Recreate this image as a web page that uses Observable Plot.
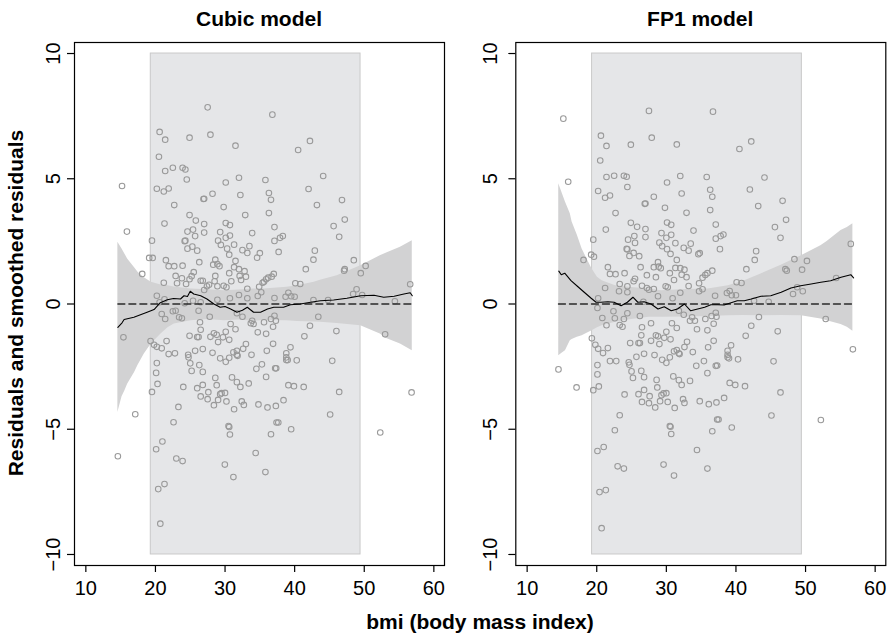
<!DOCTYPE html>
<html>
<head>
<meta charset="utf-8">
<script src="https://cdn.jsdelivr.net/npm/d3@7"></script>
<script src="https://cdn.jsdelivr.net/npm/@observablehq/plot@0.6"></script>
<style>
  html, body { margin: 0; padding: 0; background: #fff; }
  #wrap { position: relative; width: 888px; height: 635px; overflow: hidden; }
  #wrap svg { position: absolute; top: 0; }
</style>
</head>
<body>
<div id="wrap"></div>
<script>
// ---------- data ----------
const panelTitles = ["Cubic model", "FP1 model"];
const xLabel = "bmi (body mass index)";
const yLabel = "Residuals and smoothed residuals";
const xTicks = [10, 20, 30, 40, 50, 60];
const yTicks = [-10, -5, 0, 5, 10];
const yTickLabels = ["\u221210", "\u22125", "0", "5", "10"];
const regionX = [19.33, 49.47];   // shaded central region of bmi
const regionY = [-10, 10];

// Cubic model residuals [bmi, residual]
const cubicPoints = [
[15.2,4.71],[15.9,2.89],[18.1,1.2],[27.5,7.85],[36.8,7.56],[20.6,6.87],[21.4,6.56],[24.9,6.64],[27.9,6.76],[31.5,6.32],[40.5,6.15],[42.2,6.51],[20.5,5.88],[21.4,5.31],[22.5,5.44],[23.9,5.44],[24.3,5.37],[24.5,4.97],[20.2,4.6],[21.2,4.49],[21.9,4.61],[22.7,3.95],[26.9,4.19],[27.0,4.2],[28.2,4.4],[30.1,4.85],[32.0,5.04],[32.2,4.35],[29.8,3.87],[35.8,4.95],[36.3,4.43],[36.6,4.16],[36.3,3.63],[32.9,3.55],[42.0,4.59],[43.2,3.95],[44.1,5.11],[46.8,4.15],[47.2,3.37],[45.6,3.11],[46.4,2.68],[24.9,3.55],[25.8,3.33],[27.0,3.19],[21.3,3.21],[30.1,3.23],[30.7,3.15],[25.4,2.97],[24.6,2.89],[27.0,2.85],[25.7,2.71],[29.3,2.87],[30.7,2.73],[30.1,2.64],[33.9,2.83],[37.1,3.07],[24.3,2.53],[24.2,2.51],[29.0,2.53],[29.4,2.36],[31.3,2.37],[30.3,2.21],[30.6,1.97],[25.3,2.29],[24.6,2.21],[26.0,2.13],[33.5,2.31],[32.5,2.15],[33.2,2.04],[35.0,2.03],[34.6,1.85],[37.1,2.52],[37.9,2.64],[38.3,2.71],[37.7,2.08],[42.9,2.13],[42.7,1.77],[41.6,1.39],[19.5,2.53],[19.1,1.84],[19.6,1.84],[21.5,1.75],[21.9,1.51],[22.7,1.51],[23.9,1.53],[26.3,1.67],[28.6,1.77],[28.3,1.57],[28.9,1.59],[29.2,1.51],[31.5,1.72],[31.3,1.47],[32.0,1.39],[32.8,1.31],[30.6,1.23],[22.9,1.12],[23.8,1.03],[25.2,1.11],[25.5,1.27],[24.9,0.99],[26.5,0.93],[26.8,0.93],[28.6,1.12],[28.5,0.91],[32.1,1.12],[33.0,1.09],[32.3,0.96],[30.9,0.91],[21.2,0.85],[23.1,0.83],[24.4,0.8],[27.7,0.77],[27.4,0.71],[28.9,0.71],[29.8,0.73],[30.2,0.67],[33.2,0.61],[34.9,0.69],[35.6,0.89],[35.9,0.99],[36.2,1.05],[36.7,1.09],[37.0,1.2],[35.4,0.85],[40.1,0.83],[40.8,0.8],[48.5,1.75],[47.2,1.39],[47.1,1.33],[50.2,1.52],[49.5,1.23],[56.6,0.79],[48.9,0.59],[48.4,0.4],[49.7,0.36],[54.4,0.11],[20.2,0.33],[21.3,0.19],[20.6,0.07],[32.0,0.36],[33.2,0.23],[34.7,0.32],[35.2,0.47],[37.1,0.24],[38.7,0.29],[39.1,0.45],[39.5,0.31],[40.0,0.29],[42.7,0.16],[44.8,0.16],[27.0,0.56],[28.9,0.17],[25.4,0.13],[26.5,0.07],[30.7,0.23],[24.2,0.03],
[15.4,-1.33],[14.6,-6.08],[17.1,-4.4],[19.3,-1.48],[19.8,-1.63],[20.2,-1.71],[20.9,-1.77],[21.6,-1.48],[20.2,-2.36],[20.1,-2.75],[20.3,-3.19],[19.5,-3.51],[21.9,-2.0],[22.8,-1.97],[24.0,-3.31],[23.3,-4.11],[22.6,-4.72],[21.0,-5.49],[20.1,-5.8],[23.0,-6.17],[23.9,-6.27],[20.4,-7.39],[21.3,-7.19],[20.7,-8.77],[20.9,-0.4],[21.4,-0.6],[22.5,-0.29],[22.9,-0.27],[23.4,-0.53],[23.8,-0.57],[24.9,-1.27],[24.7,-2.03],[24.75,-2.13],[25.0,-2.37],[25.2,-2.67],[25.7,-1.87],[26.0,-1.32],[26.2,-1.32],[26.3,-2.44],[26.8,-2.71],[26.8,-1.8],[26.4,-0.73],[26.5,-1.03],[26.2,-0.27],[26.0,-3.36],[26.8,-3.23],[26.5,-3.69],[27.6,-3.52],[27.5,-3.8],[27.8,-0.51],[27.9,-1.31],[28.2,-1.95],[28.4,-1.17],[28.8,-1.23],[29.0,-1.52],[28.6,-2.95],[28.8,-3.24],[28.4,-4.04],[29.0,-3.83],[29.3,-3.6],[29.5,-3.56],[30.0,-3.55],[30.2,-3.89],[29.3,-2.17],[30.1,-2.31],[30.6,-2.15],[29.7,-1.33],[30.1,-1.11],[30.6,-1.43],[30.8,-0.8],[31.5,-1.01],[31.2,-1.93],[31.7,-1.87],[31.7,-2.03],[31.8,-2.07],[32.6,-1.79],[33.0,-1.6],[33.8,-2.03],[31.0,-2.93],[31.7,-3.12],[32.2,-3.31],[33.4,-3.17],[32.4,-3.89],[32.7,-4.03],[31.3,-4.2],[34.5,-2.59],[34.7,-1.13],[33.7,-0.77],[33.9,-0.67],[34.1,-0.8],[32.5,-0.51],[31.7,-0.37],[35.3,-2.41],[35.9,-2.91],[36.0,-1.87],[35.9,-1.19],[35.6,-0.73],[36.9,-1.59],[36.9,-0.91],[37.1,-0.47],[37.3,-0.67],[36.6,-0.6],[34.8,-4.01],[36.1,-4.13],[37.3,-4.07],[38.4,-3.84],[37.2,-2.57],[37.35,-2.57],[38.8,-1.97],[38.8,-2.13],[39.0,-2.24],[38.8,-2.24],[39.4,-1.73],[40.3,-2.25],[39.1,-3.24],[39.9,-3.28],[41.3,-3.31],[41.4,-1.29],[42.2,-0.87],[43.4,-0.51],[45.4,-2.27],[46.0,-1.08],[46.4,-3.51],[45.1,-4.41],[53.0,-1.21],[52.3,-5.13],[56.8,-3.53],[37.4,-4.73],[37.65,-4.73],[39.5,-5.0],[36.6,-5.2],[34.4,-5.95],[35.8,-6.71],[30.5,-4.87],[30.6,-4.91],[30.7,-5.21],[29.97,-6.41],[31.2,-6.91]
];

// FP1 model residuals [bmi, residual]
const fp1Points = [
[15.2,7.4],[15.9,4.88],[18.1,1.76],[19.2,1.97],[19.6,1.89],[19.5,2.57],[27.5,7.71],[36.7,7.68],[20.6,6.72],[21.4,6.31],[24.9,6.36],[27.9,6.64],[31.5,6.37],[40.5,6.19],[42.2,6.49],[20.5,5.73],[21.4,5.07],[22.5,5.12],[23.9,5.12],[24.3,5.08],[24.4,4.67],[20.2,4.51],[21.2,4.24],[21.9,4.33],[22.7,3.63],[26.9,4.0],[27.0,4.01],[28.2,4.28],[30.1,4.85],[32.0,5.11],[32.2,4.41],[29.8,3.84],[35.8,5.07],[36.3,4.56],[36.6,4.28],[36.3,3.75],[32.9,3.64],[42.0,4.57],[43.2,3.91],[44.1,5.05],[46.7,4.12],[47.2,3.36],[45.6,3.07],[46.4,2.64],[24.9,3.24],[25.8,3.08],[27.0,2.99],[21.3,2.97],[30.1,3.25],[30.7,3.16],[25.4,2.71],[24.5,2.57],[27.0,2.67],[25.5,2.44],[29.3,2.83],[30.7,2.76],[30.0,2.64],[33.9,2.93],[37.1,3.17],[24.3,2.2],[24.4,2.18],[29.0,2.45],[29.4,2.31],[31.3,2.43],[30.1,2.19],[30.6,2.0],[25.3,2.04],[24.7,1.92],[26.1,1.91],[33.5,2.41],[32.5,2.24],[33.2,2.13],[34.6,1.99],[34.8,2.03],[37.1,2.61],[37.8,2.71],[38.2,2.77],[37.7,2.19],[42.9,2.11],[42.7,1.76],[41.5,1.39],[21.6,1.47],[21.9,1.2],[22.7,1.19],[24.0,1.23],[26.3,1.47],[28.8,1.67],[28.2,1.47],[28.9,1.49],[29.2,1.43],[31.5,1.76],[31.3,1.44],[32.0,1.43],[32.6,1.37],[30.5,1.23],[27.2,1.15],[28.5,1.07],[25.5,1.01],[25.3,0.91],[26.5,0.73],[23.3,0.8],[24.4,0.71],[21.2,0.64],[23.2,0.51],[24.4,0.47],[27.2,0.64],[27.5,0.57],[28.2,0.6],[29.9,0.71],[30.2,0.67],[31.1,0.96],[32.2,1.17],[32.9,1.07],[33.2,0.72],[32.0,0.45],[34.7,0.83],[35.2,1.05],[35.6,1.16],[35.9,1.23],[36.6,1.33],[35.2,0.59],[34.7,0.51],[37.0,0.33],[40.1,0.87],[40.8,0.84],[38.7,0.44],[39.1,0.52],[39.4,0.35],[40.0,0.35],[42.6,0.13],[44.7,0.09],[48.4,1.79],[47.1,1.39],[47.3,1.33],[50.2,1.72],[49.5,1.37],[56.5,2.4],[54.4,1.04],[48.8,0.67],[48.2,0.4],[49.6,0.51],[20.2,0.23],[30.9,0.23],[28.8,0.31],[26.7,0.09],
[20.1,-0.16],[14.5,-2.61],[17.1,-3.33],[19.3,-1.37],[19.8,-1.63],[20.2,-1.79],[20.9,-1.96],[21.6,-1.76],[20.1,-2.44],[20.1,-2.81],[20.3,-3.29],[19.5,-3.44],[21.9,-2.28],[22.8,-2.28],[24.0,-3.61],[23.3,-4.44],[22.6,-5.04],[21.0,-5.71],[20.1,-5.87],[23.0,-6.48],[23.9,-6.57],[20.4,-7.51],[21.3,-7.43],[20.7,-8.95],[20.8,-0.56],[21.4,-0.85],[22.4,-0.29],[22.6,-0.57],[23.3,-0.84],[23.7,-0.91],[23.9,-0.6],[24.4,-0.37],[24.8,-1.56],[24.6,-2.33],[24.7,-2.43],[25.0,-2.69],[25.2,-2.95],[25.7,-2.11],[26.0,-1.56],[26.2,-1.56],[26.4,-2.67],[26.8,-2.92],[26.8,-1.99],[26.5,-0.93],[26.4,-1.25],[26.2,-0.48],[26.0,-3.6],[26.8,-3.43],[26.5,-3.91],[27.6,-3.68],[27.5,-3.96],[27.8,-0.77],[27.8,-1.47],[28.3,-2.04],[28.5,-1.25],[28.8,-1.29],[29.0,-1.6],[28.6,-3.03],[28.7,-3.33],[28.4,-4.13],[29.1,-3.88],[29.3,-3.64],[29.6,-3.57],[30.0,-3.56],[30.2,-3.91],[29.4,-2.23],[30.0,-2.35],[30.5,-2.13],[29.7,-1.35],[30.0,-1.11],[30.6,-1.41],[30.8,-0.77],[31.5,-0.96],[31.1,-1.89],[31.5,-1.84],[31.8,-1.97],[31.9,-2.0],[32.6,-1.72],[32.97,-1.51],[33.8,-1.92],[31.0,-2.89],[31.8,-3.04],[32.2,-3.23],[33.4,-3.07],[32.4,-3.8],[32.6,-3.95],[31.2,-4.15],[34.3,-2.47],[34.4,-1.01],[33.4,-0.67],[33.7,-0.53],[34.1,-0.67],[32.5,-0.43],[31.8,-0.27],[35.4,-2.28],[35.9,-2.76],[36.0,-1.73],[35.9,-1.05],[35.6,-0.6],[36.8,-1.47],[36.8,-0.79],[37.1,-0.35],[37.2,-0.51],[36.5,-0.48],[34.8,-3.88],[36.1,-4.0],[37.2,-3.93],[38.3,-3.75],[37.1,-2.47],[37.3,-2.46],[38.8,-1.87],[38.8,-2.03],[39.0,-2.17],[38.8,-2.13],[39.3,-1.65],[40.3,-2.21],[39.1,-3.15],[39.9,-3.23],[41.3,-3.28],[41.4,-1.27],[42.2,-0.87],[43.3,-0.52],[45.4,-2.29],[46.0,-1.09],[46.4,-3.53],[45.1,-4.45],[52.9,-0.6],[52.2,-4.63],[56.8,-1.81],[37.3,-4.61],[37.5,-4.61],[39.4,-4.93],[36.6,-5.08],[34.4,-5.83],[35.9,-6.57],[30.5,-4.87],[30.6,-4.9],[30.7,-5.19],[29.6,-6.41],[31.1,-6.85]
];

// Confidence bands of smoothed residuals
const cubicBandX  = [14.6, 15.2, 15.6, 16.0, 17.0, 17.5, 18.4, 19.4, 20.8, 21.8, 22.7, 25.1, 27.5, 29.9, 32.0, 34.1, 35.6, 38.9, 40.4, 42.8, 43.7, 46.1, 49.5, 52.3, 53.3, 55.2, 56.9];
const cubicBandLo = [-4.33, -3.7, -3.47, -3.2, -2.73, -2.45, -2.0, -1.6, -1.2, -0.95, -0.8, -0.67, -0.62, -0.67, -0.64, -0.69, -0.66, -0.67, -0.7, -0.72, -0.73, -0.78, -0.87, -1.2, -1.39, -1.6, -1.87];
const cubicBandHi = [2.47, 2.2, 2.0, 1.8, 1.45, 1.27, 1.05, 0.87, 0.76, 0.73, 0.68, 0.6, 0.57, 0.53, 0.56, 0.6, 0.6, 0.67, 0.73, 0.87, 0.95, 1.13, 1.53, 1.93, 2.05, 2.27, 2.53];
const fp1BandX  = [14.54, 15.0, 15.5, 16.2, 16.46, 17.2, 17.9, 18.6, 19.33, 20.1, 20.77, 22.7, 25.0, 27.5, 29.3, 33.0, 36.0, 38.9, 41.0, 43.6, 46.5, 49.4, 52.2, 53.1, 55.1, 56.0, 56.8];
const fp1BandLo = [-2.07, -1.97, -1.87, -1.47, -1.42, -1.33, -1.27, -1.17, -1.07, -0.95, -0.87, -0.73, -0.62, -0.53, -0.53, -0.52, -0.5, -0.47, -0.46, -0.47, -0.46, -0.47, -0.6, -0.67, -0.82, -0.93, -1.09];
const fp1BandHi = [4.8, 4.45, 4.07, 3.6, 3.27, 2.75, 2.2, 1.8, 1.4, 1.07, 0.93, 0.73, 0.66, 0.6, 0.53, 0.58, 0.6, 0.73, 0.9, 1.2, 1.55, 1.93, 2.33, 2.5, 2.93, 3.05, 3.2];

// Smoothed residuals (running line)
const cubicLineX = [14.6, 15.2, 15.5, 16.9, 18.8, 19.8, 20.7, 21.7, 22.6, 23.6, 24.1, 24.6, 25.0, 25.5, 26.5, 27.4, 28.4, 29.3, 30.0, 30.8, 31.7, 32.5, 33.2, 34.1, 35.1, 36.1, 37.0, 38.4, 39.4, 40.8, 42.3, 43.7, 45.6, 47.5, 49.5, 51.4, 52.8, 54.3, 55.7, 56.6, 56.9];
const cubicLineY = [-0.93, -0.75, -0.62, -0.53, -0.33, -0.22, 0.05, 0.17, 0.22, 0.2, 0.33, 0.3, 0.51, 0.4, 0.33, 0.2, 0.0, -0.13, -0.1, -0.2, -0.33, -0.25, -0.13, -0.33, -0.33, -0.2, -0.13, -0.13, -0.03, 0.0, 0.07, 0.13, 0.16, 0.23, 0.33, 0.35, 0.27, 0.31, 0.4, 0.45, 0.33];
const fp1LineX = [14.55, 14.9, 15.4, 16.3, 17.3, 18.2, 19.2, 19.9, 20.6, 21.6, 22.5, 23.5, 24.4, 25.2, 25.9, 26.8, 27.8, 28.8, 29.7, 30.7, 31.6, 32.6, 33.5, 34.5, 35.5, 36.4, 37.4, 38.3, 39.3, 40.2, 41.2, 42.2, 43.6, 45.0, 46.5, 47.9, 49.3, 50.8, 52.2, 53.6, 55.1, 56.5, 56.9];
const fp1LineY = [1.31, 1.17, 1.23, 0.93, 0.69, 0.47, 0.23, 0.07, 0.07, 0.09, 0.07, -0.07, 0.07, 0.27, 0.07, 0.09, 0.0, -0.2, -0.11, -0.27, -0.2, 0.0, -0.27, -0.2, -0.13, -0.03, -0.03, -0.04, 0.05, 0.13, 0.13, 0.2, 0.31, 0.33, 0.47, 0.64, 0.73, 0.8, 0.87, 0.93, 1.07, 1.17, 1.04];

// ---------- drawing ----------
const FONT = "'Liberation Sans', Arial, Helvetica, sans-serif";
const xDomain = [8.37, 61.53];
const yDomain = [-10.44, 10.44];

function panel(cfg) {
  const pts = cfg.points.map(([x, y]) => ({x, y}));
  const band = cfg.bandX.map((x, i) => ({x, lo: cfg.bandLo[i], hi: cfg.bandHi[i]}));
  const line = cfg.lineX.map((x, i) => ({x, y: cfg.lineY[i]}));
  const ext = d3.extent(pts, d => d.x);
  const zero = [{x: ext[0], y: 0}, {x: ext[1], y: 0}];
  return Plot.plot({
    width: cfg.width, height: 635,
    marginLeft: cfg.marginLeft, marginRight: cfg.marginRight,
    marginTop: 42, marginBottom: 70,
    x: {domain: xDomain},
    y: {domain: yDomain},
    style: {fontFamily: FONT, fontSize: "20px", background: "transparent", color: "black", overflow: "visible"},
    marks: [
      Plot.rect([{x1: regionX[0], x2: regionX[1], y1: regionY[0], y2: regionY[1]}],
        {x1: "x1", x2: "x2", y1: "y1", y2: "y2", fill: "#e5e6e8", stroke: "#c9c9c9", strokeWidth: 1}),
      Plot.areaY(band, {x: "x", y1: "lo", y2: "hi", fill: "#d2d2d3"}),
      Plot.dot(pts, {x: "x", y: "y", r: 2.8, stroke: "#999999", strokeWidth: 1.05, fill: "none"}),
      Plot.line(zero, {x: "x", y: "y", stroke: "#2a2a2a", strokeWidth: 1.3, strokeDasharray: "7,4"}),
      Plot.line(line, {x: "x", y: "y", stroke: "black", strokeWidth: 1.1}),
      Plot.frame({stroke: "black", strokeWidth: 1.2}),
      Plot.axisX({ticks: xTicks, tickSize: 7, tickFormat: () => "", label: null, strokeWidth: 1.2}),
      Plot.axisY({ticks: yTicks, tickSize: 7, tickFormat: () => "", label: null, strokeWidth: 1.2}),
      Plot.text(xTicks, {x: d => d, frameAnchor: "bottom", dy: 23.5, lineAnchor: "middle", textAnchor: "middle", fontSize: 20, fill: "black"}),
      Plot.text(yTicks, {y: d => d, text: (d, i) => yTickLabels[i], frameAnchor: "left", dx: cfg.yLabelDx, rotate: -90, lineAnchor: "middle", textAnchor: "middle", fontSize: 20, fill: "black"})
    ]
  });
}

const wrap = document.getElementById("wrap");
const left = panel({points: cubicPoints, bandX: cubicBandX, bandLo: cubicBandLo, bandHi: cubicBandHi,
  lineX: cubicLineX, lineY: cubicLineY, width: 448, marginLeft: 74, marginRight: 4, yLabelDx: -21});
left.style.left = "0px";
wrap.appendChild(left);
const right = panel({points: fp1Points, bandX: fp1BandX, bandLo: fp1BandLo, bandHi: fp1BandHi,
  lineX: fp1LineX, lineY: fp1LineY, width: 447, marginLeft: 74.3, marginRight: 2.7, yLabelDx: -25.5});
right.style.left = "441px";
wrap.appendChild(right);

// titles and axis labels
const ov = d3.select(wrap).append("svg").attr("width", 888).attr("height", 635)
  .style("left", "0px").style("pointer-events", "none")
  .attr("font-family", FONT).attr("font-weight", "bold").attr("font-size", 21);
ov.append("text").attr("x", 259).attr("y", 25.5).attr("text-anchor", "middle").text(panelTitles[0]);
ov.append("text").attr("x", 700.2).attr("y", 25.5).attr("text-anchor", "middle").text(panelTitles[1]);
ov.append("text").attr("x", 480).attr("y", 628.5).attr("text-anchor", "middle").text(xLabel);
ov.append("text").attr("transform", "translate(23,303) rotate(-90)").attr("text-anchor", "middle").text(yLabel);
</script>
</body>
</html>
